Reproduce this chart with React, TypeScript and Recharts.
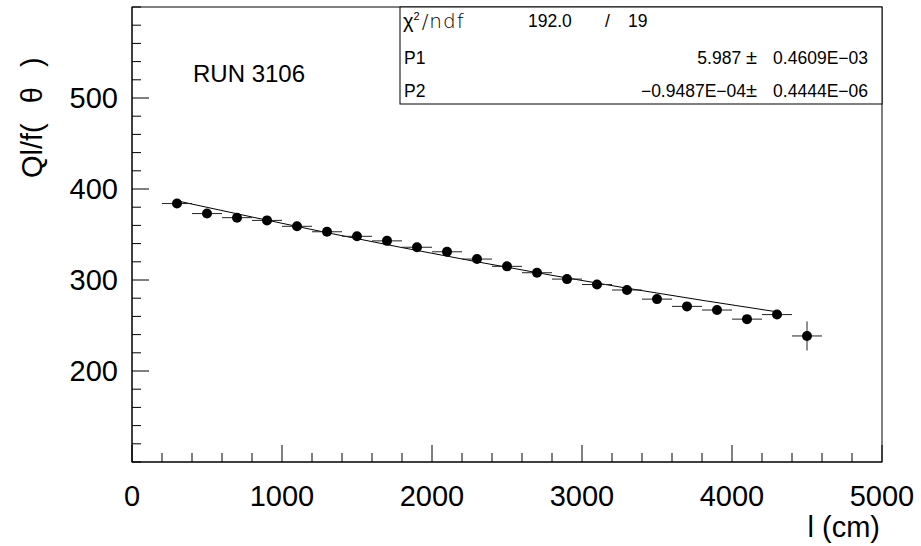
import { ComposedChart, Line, Scatter, XAxis, YAxis, ErrorBar } from 'recharts'

// measured points: position along the counter (cm) vs Ql/f(theta)
const POS_CM = [300, 500, 700, 900, 1100, 1300, 1500, 1700, 1900, 2100, 2300, 2500, 2700, 2900, 3100, 3300, 3500, 3700, 3900, 4100, 4300, 4500]
const QL_F = [384, 373, 368.5, 365.5, 359, 353, 348, 343, 336, 331, 323, 315, 308, 301, 295, 289, 279, 271, 267, 257, 262, 238.5]
const Y_ERR = [1.5, 1.5, 1.5, 1.5, 1.5, 1.5, 1.5, 1.5, 1.5, 1.5, 1.5, 1.5, 1.5, 2, 2, 2, 2, 2, 2.5, 3, 3.5, 16]
const BIN_HALF = 100

// fit curve
const FIT_X = [300, 1300, 2300, 3300, 4300]
const FIT_Y = [387, 352, 320, 291, 265]

const X_MAJOR = [0, 1000, 2000, 3000, 4000, 5000]
const Y_MAJOR = [200, 300, 400, 500]
const X_TICKS = Array.from({ length: 26 }, (_, i) => i * 200)
const Y_TICKS = Array.from({ length: 26 }, (_, i) => 100 + i * 20)

const W = 921
const H = 546
const AXIS_W = 30
const M = { top: 7, right: 39, bottom: 84 - AXIS_W, left: 132 - AXIS_W }
const FONT = '"Liberation Sans", Arial, Helvetica, sans-serif'

const points = POS_CM.map((x, i) => ({ x, y: QL_F[i], ex: BIN_HALF, ey: Y_ERR[i] }))
const fit = FIT_X.map((x, i) => ({ x, y: FIT_Y[i] }))

const XTick = (props: any) => {
  const { x, y, payload } = props
  const major = X_MAJOR.includes(payload.value)
  return (
    <g>
      <line x1={x} y1={y} x2={x} y2={y - (major ? 17 : 9)} stroke="#000" strokeWidth={1} />
      {major && (
        <text x={x} y={y + 44} textAnchor="middle" fontSize={29} fontFamily={FONT} fill="#000">
          {payload.value}
        </text>
      )}
    </g>
  )
}

const YTick = (props: any) => {
  const { x, y, payload } = props
  const major = Y_MAJOR.includes(payload.value)
  return (
    <g>
      <line x1={x} y1={y} x2={x + (major ? 17 : 9)} y2={y} stroke="#000" strokeWidth={1} />
      {major && (
        <text x={x - 14} y={y + 10} textAnchor="end" fontSize={29} fontFamily={FONT} fill="#000">
          {payload.value}
        </text>
      )}
    </g>
  )
}

const Dot = (props: any) => <circle cx={props.cx} cy={props.cy} r={5} fill="#000" />

export default function App() {
  const plotL = M.left + AXIS_W
  const plotR = W - M.right
  const plotB = H - M.bottom - AXIS_W
  return (
    <div style={{ position: 'absolute', left: 0, top: 0, width: W, height: H, background: '#fff' }}>
      <ComposedChart width={W} height={H} margin={M}>
        <XAxis
          type="number"
          dataKey="x"
          domain={[0, 5000]}
          ticks={X_TICKS}
          interval={0}
          height={AXIS_W}
          tickSize={0}
          tickMargin={0}
          tickLine={false}
          axisLine={{ stroke: '#000' }}
          tick={(p: any) => <XTick {...p} />}
          allowDataOverflow
        />
        <YAxis
          type="number"
          dataKey="y"
          domain={[100, 600]}
          ticks={Y_TICKS}
          interval={0}
          width={AXIS_W}
          tickSize={0}
          tickMargin={0}
          tickLine={false}
          axisLine={{ stroke: '#000' }}
          tick={(p: any) => <YTick {...p} />}
          allowDataOverflow
        />
        <Line
          data={fit}
          dataKey="y"
          type="monotone"
          stroke="#000"
          strokeWidth={1}
          dot={false}
          activeDot={false}
          isAnimationActive={false}
        />
        <Scatter data={points} dataKey="y" shape={<Dot />} isAnimationActive={false}>
          <ErrorBar dataKey="ex" direction="x" width={0} stroke="#222" strokeWidth={1} />
          <ErrorBar dataKey="ey" direction="y" width={0} stroke="#222" strokeWidth={1} />
        </Scatter>
      </ComposedChart>

      <svg
        width={W}
        height={H}
        style={{ position: 'absolute', left: 0, top: 0, pointerEvents: 'none' }}
        fontFamily={FONT}
      >
        <rect x={plotL} y={M.top} width={plotR - plotL} height={plotB - M.top} fill="none" stroke="#000" />
        <text x={193} y={82} fontSize={24}>RUN 3106</text>

        <text transform="rotate(-90)" x={-178} y={42} fontSize={29}>
          Ql/f(<tspan dx={20}>θ</tspan>
          <tspan dx={20}>)</tspan>
        </text>
        <text x={880} y={537} textAnchor="end" fontSize={29}>l (cm)</text>

        {/* fit statistics box */}
        <rect x={400} y={M.top} width={plotR - 400} height={97} fill="#fff" stroke="#000" />
        <g fontSize={17.5}>
          <text x={403} y={28}>
            <tspan fontSize={20}>χ</tspan>
            <tspan dy={-8} fontSize={11}>2</tspan>
            <tspan dy={8} dx={2} fontFamily='"DejaVu Sans", sans-serif' fontWeight={200} fontSize={20} letterSpacing={1}>/ndf</tspan>
          </text>
          <text x={528} y={27}>192.0</text>
          <text x={605} y={27}>/</text>
          <text x={628} y={27}>19</text>

          <text x={404} y={64}>P1</text>
          <text x={757} y={64} textAnchor="end">5.987 <tspan fontSize={20}>±</tspan></text>
          <text x={868} y={64} textAnchor="end">0.4609E−03</text>

          <text x={404} y={97}>P2</text>
          <text x={757} y={97} textAnchor="end">−0.9487E−04<tspan fontSize={20}>±</tspan></text>
          <text x={868} y={97} textAnchor="end">0.4444E−06</text>
        </g>
      </svg>
    </div>
  )
}
